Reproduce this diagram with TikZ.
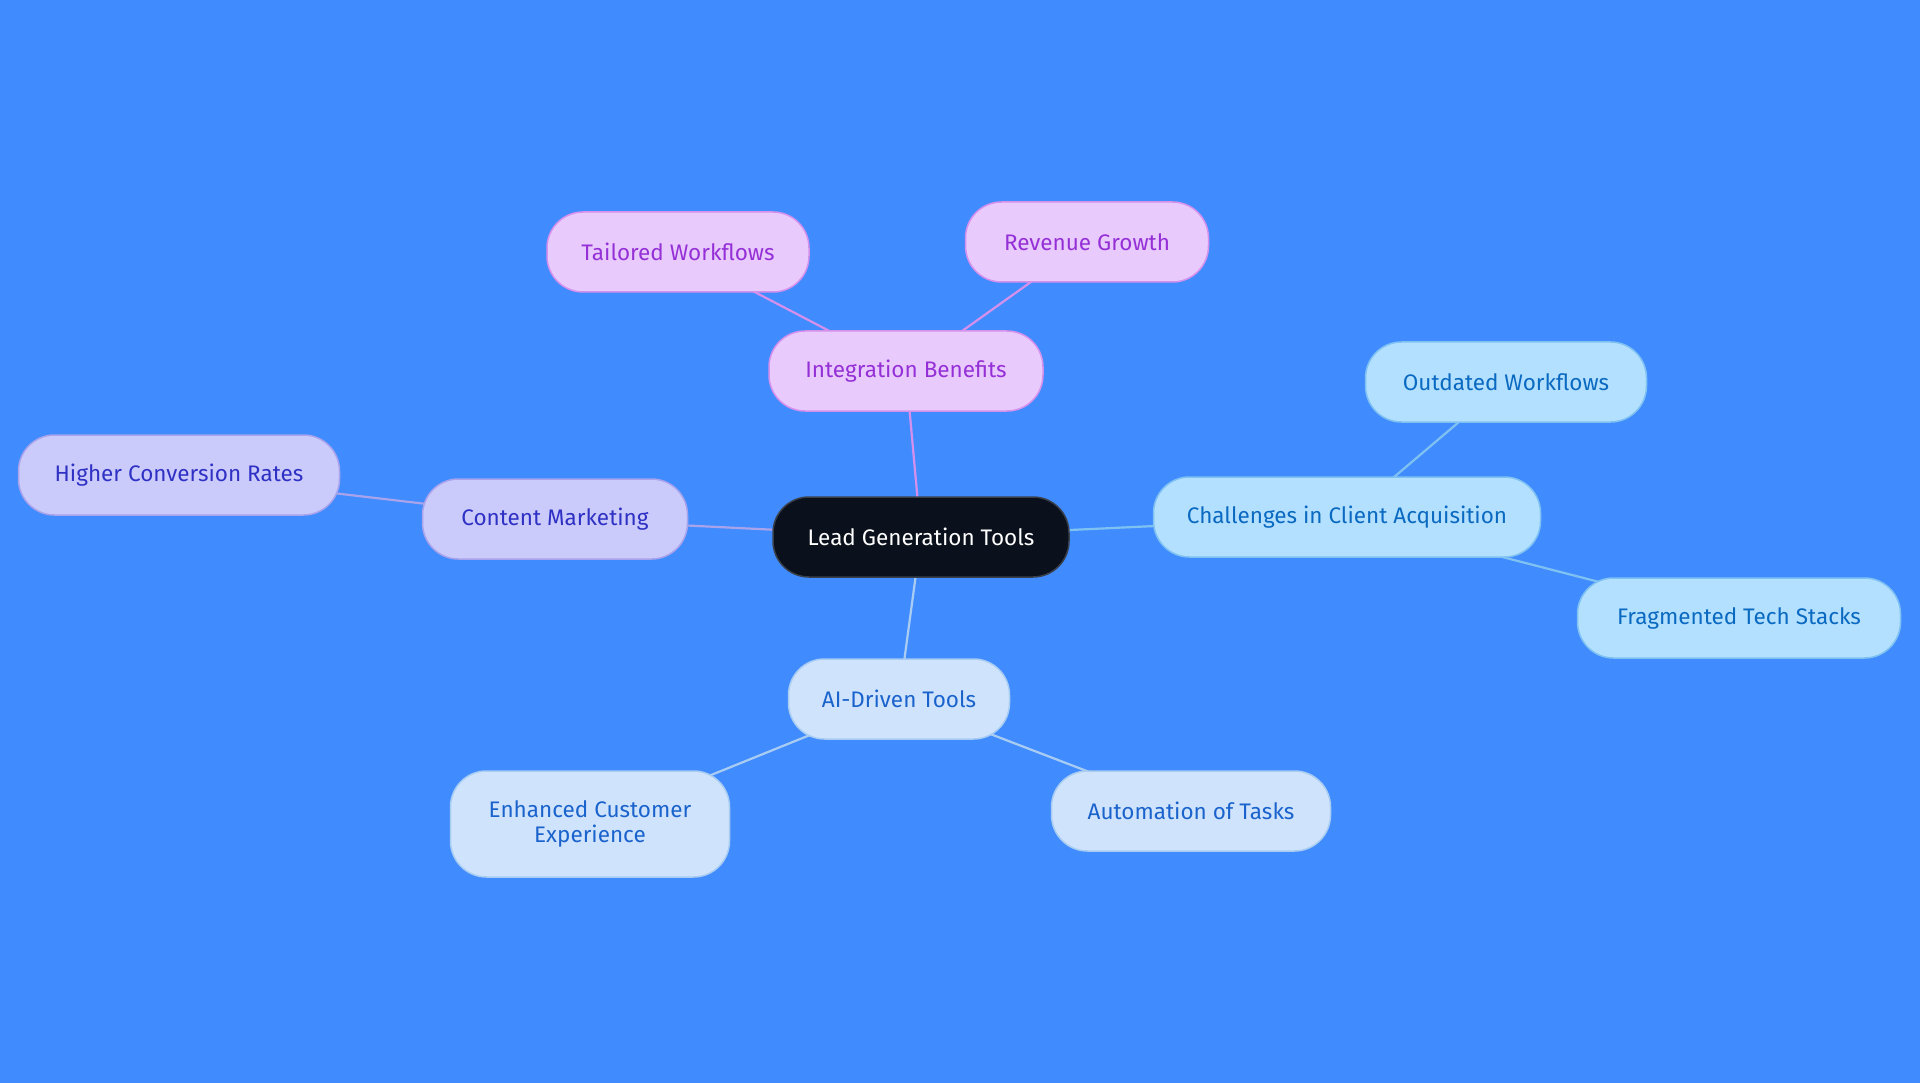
\documentclass[tikz,border=0pt]{standalone}
\usepackage{fontspec}
\setmainfont{Fira Sans}
\definecolor{bg}{HTML}{408CFF}
\definecolor{cfill}{HTML}{0B111C}
\definecolor{cdraw}{HTML}{3A404A}
\definecolor{pfill}{HTML}{E9CAFD}
\definecolor{ptext}{HTML}{9430D6}
\definecolor{pdraw}{HTML}{D590EC}
\definecolor{lfill}{HTML}{CBCBFB}
\definecolor{ltext}{HTML}{2E31C4}
\definecolor{ldraw}{HTML}{A9A3EC}
\definecolor{bfill}{HTML}{B3E0FF}
\definecolor{btext}{HTML}{0A69C0}
\definecolor{bdraw}{HTML}{7FC2F2}
\definecolor{afill}{HTML}{CFE4FC}
\definecolor{atext}{HTML}{1A62CC}
\definecolor{adraw}{HTML}{A8CCF2}
\pgfdeclarelayer{backdrop}
\pgfdeclarelayer{edges}
\pgfsetlayers{backdrop,edges,main}
\tikzset{
  box/.style={rounded corners=36pt, line width=1.5pt, align=center, font=\fontsize{22.5}{25}\selectfont, inner sep=0pt, minimum height=80pt},
  centerbox/.style={box, fill=cfill, draw=cdraw, text=white},
  pbox/.style={box, fill=pfill, draw=pdraw, text=ptext},
  lbox/.style={box, fill=lfill, draw=ldraw, text=ltext},
  bbox/.style={box, fill=bfill, draw=bdraw, text=btext},
  abox/.style={box, fill=afill, draw=adraw, text=atext},
  pedge/.style={draw=pdraw, line width=2.2pt},
  ledge/.style={draw=ldraw, line width=2.2pt},
  bedge/.style={draw=bdraw, line width=2.2pt},
  aedge/.style={draw=adraw, line width=2.2pt}
}
\begin{document}
\begin{tikzpicture}[x=1pt,y=-1pt]
\begin{pgfonlayer}{backdrop}
\fill[bg] (0,0) rectangle (1920,1083);
\end{pgfonlayer}
\useasboundingbox (0,0) rectangle (1920,1083);
\node[centerbox, minimum width=296pt] (c) at (921,537) {Lead Generation Tools};
\node[pbox, minimum width=274pt] (ib) at (906,371) {Integration Benefits};
\node[pbox, minimum width=262pt] (tw) at (678,252) {Tailored Workflows};
\node[pbox, minimum width=243pt] (rg) at (1087,242) {Revenue Growth};
\node[bbox, minimum width=387pt] (ch) at (1347,517) {Challenges in Client Acquisition};
\node[bbox, minimum width=281pt] (ow) at (1506,382) {Outdated Workflows};
\node[bbox, minimum width=323pt] (ft) at (1739,618) {Fragmented Tech Stacks};
\node[lbox, minimum width=265pt] (cm) at (555,519) {Content Marketing};
\node[lbox, minimum width=321pt] (hc) at (179,475) {Higher Conversion Rates};
\node[abox, minimum width=221pt] (ai) at (899,699) {AI-Driven Tools};
\node[abox, minimum width=279pt, minimum height=106pt] (ec) at (590,824) {Enhanced Customer\\Experience};
\node[abox, minimum width=279pt] (at) at (1191,811) {Automation of Tasks};
\begin{pgfonlayer}{edges}
\draw[pedge] (c.center) -- (ib.center);
\draw[pedge] (ib.center) -- (tw.center);
\draw[pedge] (ib.center) -- (rg.center);
\draw[bedge] (c.center) -- (ch.center);
\draw[bedge] (ch.center) -- (ow.center);
\draw[bedge] (ch.center) -- (ft.center);
\draw[ledge] (c.center) -- (cm.center);
\draw[ledge] (cm.center) -- (hc.center);
\draw[aedge] (c.center) -- (ai.center);
\draw[aedge] (ai.center) -- (ec.center);
\draw[aedge] (ai.center) -- (at.center);
\end{pgfonlayer}
\end{tikzpicture}
\end{document}
